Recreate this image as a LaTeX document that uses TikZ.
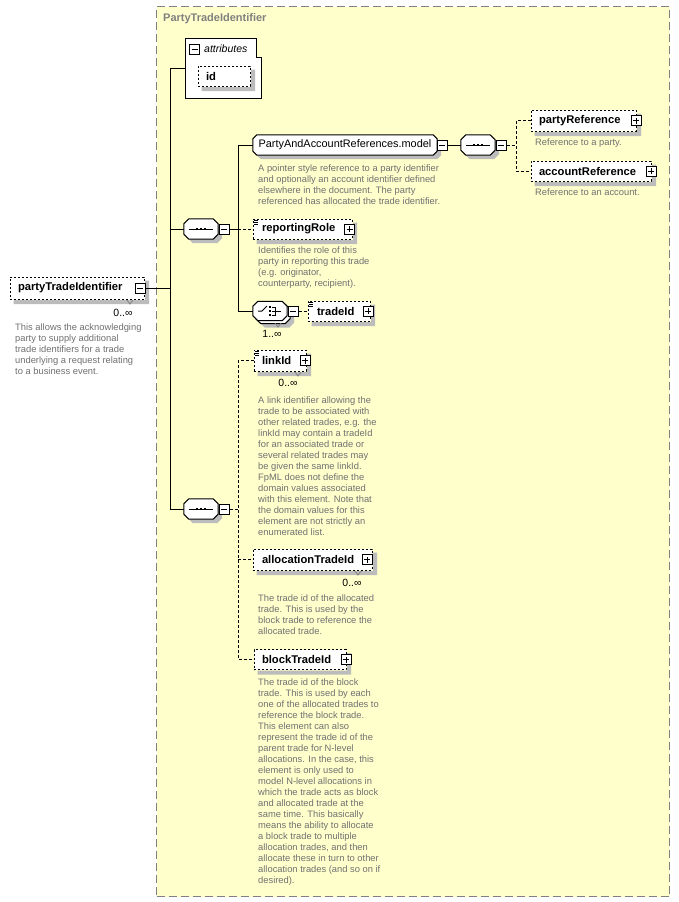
\documentclass[tikz,border=0pt]{standalone}
\usepackage{fontspec}
\setmainfont{Liberation Sans}
\pgfdeclarelayer{back}
\pgfdeclarelayer{shadowl}
\pgfsetlayers{back,shadowl,main}
\definecolor{bgyellow}{RGB}{255,255,204}
\definecolor{shadowgray}{RGB}{188,188,188}
\definecolor{desctext}{RGB}{112,112,112}
\definecolor{framegray}{RGB}{128,128,128}
\newcommand\lblfont{\fontsize{11.2}{13}\selectfont\bfseries}
\newcommand\dscfont{\fontsize{9.35}{11}\selectfont}
% #1 node, #2 chamfer, #3 options, #4 offset
\newcommand\octdraw[4]{\path[#3] ([shift={(#2+#4,#4)}]#1.north west) -- ([shift={(-#2+#4,#4)}]#1.north east) -- ([shift={(#4,#2+#4)}]#1.north east) -- ([shift={(#4,-#2+#4)}]#1.south east) -- ([shift={(-#2+#4,#4)}]#1.south east) -- ([shift={(#2+#4,#4)}]#1.south west) -- ([shift={(#4,-#2+#4)}]#1.south west) -- ([shift={(#4,#2+#4)}]#1.north west) -- cycle;}
\newcommand\octshadow[3]{\begin{pgfonlayer}{shadowl}\octdraw{#1}{#2}{fill=shadowgray}{#3}\end{pgfonlayer}}
% element shadow as an L-shaped strip right and below the box #1
\newcommand\eshadow[1]{\path[fill=shadowgray] ([shift={(0.5,4)}]#1.north east) -- ([shift={(4.5,4)}]#1.north east) -- ([shift={(4.5,4.5)}]#1.south east) -- ([shift={(4,4.5)}]#1.south west) -- ([shift={(4,0.5)}]#1.south west) -- ([shift={(0.5,0.5)}]#1.south east) -- cycle;}
\newcommand\seqicon[1]{\draw[line width=1pt] ([xshift=5pt]#1.west) -- ([xshift=-5pt]#1.east);
  \foreach \qq in {-4,0,4} \fill ([shift={(\qq-1.2,-1.2)}]#1.center) rectangle ([shift={(\qq+1.2,1.2)}]#1.center);}
\newcommand\choiceicon[1]{%
  \draw[line width=1pt] ([shift={(-12,0)}]#1.center) -- ([shift={(-8,0)}]#1.center) -- ([shift={(-3,-5)}]#1.center);
  \foreach \qq in {-4,0,4} \fill ([shift={(-1.2,\qq-1.2)}]#1.center) rectangle ([shift={(1.2,\qq+1.2)}]#1.center);
  \draw[line width=1pt] ([shift={(2,-4)}]#1.center) -- ([shift={(5,-4)}]#1.center) -- ([shift={(5,4)}]#1.center) -- ([shift={(2,4)}]#1.center);
  \draw[line width=1pt] ([shift={(2,0)}]#1.center) -- ([shift={(11,0)}]#1.center);}
\newcommand\simplemark[1]{\foreach \qq in {2,3.7,5.4} \draw[line width=0.7pt] ([shift={(1.5,\qq)}]#1.north west) -- ++(4,0);}
\newcommand\chev[2]{\draw[line width=0.8pt, draw=framegray] ({#1-3},#2) -- (#1,{#2+4}) -- ({#1+3},#2);}
\begin{document}
\begin{tikzpicture}[x=1pt,y=-1pt,line width=1pt,
  pmbase/.style={draw, solid, fill=white, minimum size=10pt, inner sep=0pt, line width=1pt},
  pmminus/.style={pmbase, path picture={\draw[line width=1pt] ([xshift=-3pt]path picture bounding box.center) -- ([xshift=3pt]path picture bounding box.center);}},
  pmplus/.style={pmbase, path picture={\draw[line width=1pt] ([xshift=-3pt]path picture bounding box.center) -- ([xshift=3pt]path picture bounding box.center) ([yshift=-3pt]path picture bounding box.center) -- ([yshift=3pt]path picture bounding box.center);}},
  elembox/.style={draw, line width=1pt, dash pattern=on 2pt off 2pt, fill=white, inner ysep=0pt, align=left, font=\lblfont},
  grp/.style={minimum height=20pt, inner sep=0pt},
  desc/.style={anchor=north west, inner sep=0pt, align=left, text=desctext, font=\dscfont},
  mult/.style={inner sep=0pt, font=\fontsize{10.5}{12}\selectfont},
  cdash/.style={line width=1pt, dash pattern=on 3pt off 2pt},
  octo/.style={draw, fill=white, line width=1pt}]
\useasboundingbox (0,0) rectangle (679,902);
\begin{pgfonlayer}{back}
\fill[white] (0,0) rectangle (679,902);
\node[draw=framegray, fill=bgyellow, line width=1pt, dash pattern=on 8pt off 4pt, minimum width=513pt, minimum height=890pt, anchor=north west, inner sep=0pt] (ptitype) at (156,6) {};
\end{pgfonlayer}
\node[anchor=west, inner sep=0pt, text=framegray, font=\fontsize{11}{13}\selectfont\bfseries] (title) at (163,19) {PartyTradeIdentifier};
% attributes
\node[minimum width=76pt, minimum height=60pt, inner sep=0pt] (attr) at (223,68) {};
\draw[fill=white] (attr.north west) -- ([xshift=-5pt]attr.north east) -- ([xshift=-5pt,yshift=-19pt]attr.north east) -- ([yshift=-19pt]attr.north east) -- (attr.south east) -- (attr.south west) -- cycle;
\node[pmminus] (attrm) at (194.5,49.5) {};
\node[anchor=west, inner sep=0pt, font=\fontsize{10.5}{12}\selectfont\itshape] (attrlbl) at (204,49) {attributes};
\node[elembox, minimum height=20pt, text width=36pt, inner xsep=8pt] (idbox) at (224,76) {id};
\eshadow{idbox}
% partyTradeIdentifier
\node[elembox, minimum height=22pt, text width=118pt, inner xsep=8pt] (pti) at (77,288) {partyTradeIdentifier};
\eshadow{pti}
\node[pmminus] (ptim) at (140,288) {};
\chev{130}{300}
\node[mult] (ptimult) at (123,313) {0..∞};
\node[desc] (ptidesc) at (15,324) {This allows the acknowledging\\party to supply additional\\trade identifiers for a trade\\underlying a request relating\\to a business event.};
% sequence 1
\node[grp, minimum width=34pt] (seq1) at (201,229) {};
\octshadow{seq1}{5}{4}
\octdraw{seq1}{5}{octo}{0}
\seqicon{seq1}
\node[pmminus] (seq1m) at (224,229) {};
% model group
\node[grp, minimum width=184pt] (model) at (345,145) {};
\octshadow{model}{4}{4}
\octdraw{model}{4}{octo}{0}
\node[inner sep=0pt, font=\fontsize{10.9}{12}\selectfont] (modeltext) at (model.center) {PartyAndAccountReferences.model};
\node[pmminus] (modelm) at (442,145) {};
\node[desc] (modeldesc) at (258,164.5) {A pointer style reference to a party identifier\\and optionally an account identifier defined\\elsewhere in the document. The party\\referenced has allocated the trade identifier.};
% sequence 3
\node[grp, minimum width=34pt] (seq3) at (478,145) {};
\octshadow{seq3}{5}{4}
\octdraw{seq3}{5}{octo}{0}
\seqicon{seq3}
\node[pmminus] (seq3m) at (501,145) {};
\node[elembox, minimum height=21pt, text width=89pt, inner xsep=8pt] (pref) at (583.5,120.5) {partyReference};
\eshadow{pref}
\node[pmplus] (prefp) at (636,120.5) {};
\node[desc] (prefdesc) at (535,138.5) {Reference to a party.};
\node[elembox, minimum height=20pt, text width=104pt, inner xsep=8pt] (aref) at (591,171) {accountReference};
\eshadow{aref}
\node[pmplus] (arefp) at (651,171) {};
\node[desc] (arefdesc) at (535,188.5) {Reference to an account.};
% reportingRole
\node[elembox, minimum height=20pt, text width=81pt, inner xsep=9pt] (rr) at (302.5,229) {reportingRole};
\eshadow{rr}
\simplemark{rr}
\node[pmplus] (rrp) at (349.5,229) {};
\node[desc] (rrdesc) at (258,247) {Identifies the role of this\\party in reporting this trade\\(e.g. originator,\\counterparty, recipient).};
% choice
\node[grp, minimum width=34pt, minimum height=19pt] (choice) at (270,311) {};
\octshadow{choice}{5}{7}
\octdraw{choice}{5}{octo}{3}
\octdraw{choice}{5}{octo}{0}
\choiceicon{choice}
\node[pmminus] (choicem) at (293,311) {};
\chev{278}{323}
\node[mult] (choicemult) at (272,334) {1..∞};
\node[elembox, minimum height=20pt, text width=44pt, inner xsep=9pt] (tid) at (339,311) {tradeId};
\eshadow{tid}
\simplemark{tid}
\node[pmplus] (tidp) at (368,311) {};
% sequence 2
\node[grp, minimum width=34pt] (seq2) at (201,509) {};
\octshadow{seq2}{5}{4}
\octdraw{seq2}{5}{octo}{0}
\seqicon{seq2}
\node[pmminus] (seq2m) at (224,509) {};
% linkId
\node[elembox, minimum height=21pt, text width=36pt, inner xsep=8pt] (link) at (280,360.5) {linkId};
\eshadow{link}
\simplemark{link}
\node[pmplus] (linkp) at (305,360.5) {};
\chev{298}{372}
\node[mult] (linkmult) at (288,383) {0..∞};
\node[desc] (linkdesc) at (258,396.5) {A link identifier allowing the\\trade to be associated with\\other related trades, e.g. the\\linkId may contain a tradeId\\for an associated trade or\\several related trades may\\be given the same linkId.\\FpML does not define the\\domain values associated\\with this element. Note that\\the domain values for this\\element are not strictly an\\enumerated list.};
% allocationTradeId
\node[elembox, minimum height=21pt, text width=101pt, inner xsep=9pt] (ati) at (312.5,559.5) {allocationTradeId};
\eshadow{ati}
\node[pmplus] (atip) at (367,559.5) {};
\chev{358}{571}
\node[mult] (atimult) at (352,583) {0..∞};
\node[desc] (atidesc) at (258,594.5) {The trade id of the allocated\\trade. This is used by the\\block trade to reference the\\allocated trade.};
% blockTradeId
\node[elembox, minimum height=20pt, text width=76pt, inner xsep=8pt] (bti) at (300,659.5) {blockTradeId};
\eshadow{bti}
\node[pmplus] (btip) at (346,659.5) {};
\node[desc] (btidesc) at (258,678.5) {The trade id of the block\\trade. This is used by each\\one of the allocated trades to\\reference the block trade.\\This element can also\\represent the trade id of the\\parent trade for N-level\\allocations. In the case, this\\element is only used to\\model N-level allocations in\\which the trade acts as block\\and allocated trade at the\\same time. This basically\\means the ability to allocate\\a block trade to multiple\\allocation trades, and then\\allocate these in turn to other\\allocation trades (and so on if\\desired).};
% junction coordinates
\coordinate (trunk) at (170,68);
\coordinate (seq1j) at (238,229);
\coordinate (seq2j) at (238,509);
\coordinate (seq3j) at (516,145);
% connectors
\draw (ptim.east) -- (ptim.east -| trunk);
\draw (trunk) -- (attr.west |- trunk);
\draw (trunk) -- (seq2.west -| trunk);
\draw (seq1.west -| trunk) -- (seq1.west);
\draw (seq2.west -| trunk) -- (seq2.west);
\draw (seq1m.east) -- (seq1j);
\draw (model.west) -- (model.west -| seq1j) -- (choice.west -| seq1j) -- (choice.west);
\draw[cdash] (seq1j) -- (rr.west);
\draw[cdash] (choicem.east) -- (tid.west);
\draw (modelm.east) -- (seq3.west);
\draw[cdash] (seq3m.east) -- (seq3j);
\draw[cdash] (pref.west) -- (pref.west -| seq3j) -- (aref.west -| seq3j) -- (aref.west);
\draw[cdash] (seq2m.east) -- (seq2j);
\draw[cdash] (link.west) -- (link.west -| seq2j) -- (bti.west -| seq2j) -- (bti.west);
\draw[cdash] (ati.west -| seq2j) -- (ati.west);
\end{tikzpicture}
\end{document}
